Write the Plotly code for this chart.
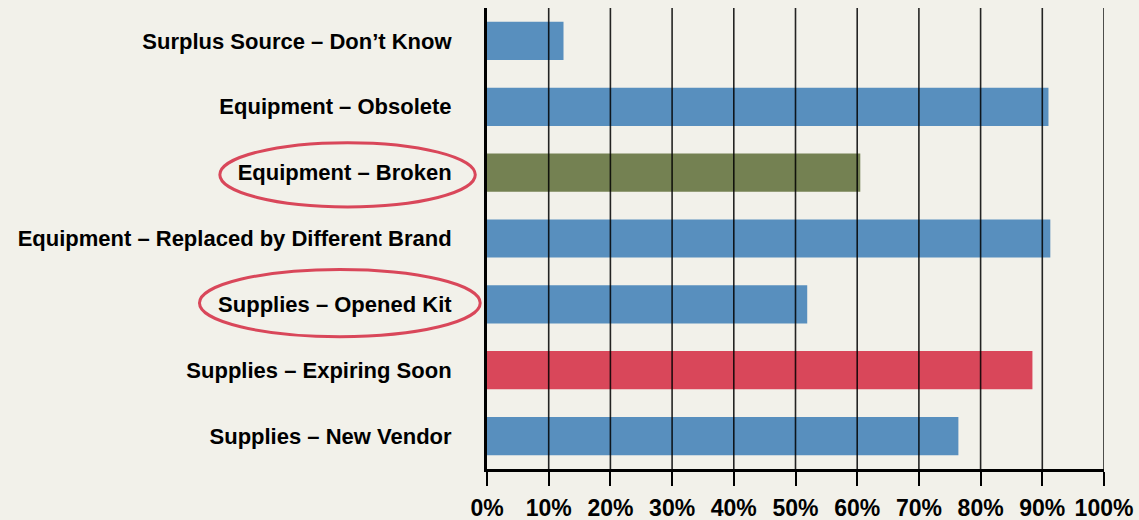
import plotly.graph_objects as go

categories = [
    "Surplus Source – Don’t Know",
    "Equipment – Obsolete",
    "Equipment – Broken",
    "Equipment – Replaced by Different Brand",
    "Supplies – Opened Kit",
    "Supplies – Expiring Soon",
    "Supplies – New Vendor",
]
values = [12.4, 91.0, 60.5, 91.3, 51.9, 88.4, 76.4]
bar_colors = ["#588fbe", "#588fbe", "#748152", "#588fbe", "#588fbe", "#d9475a", "#588fbe"]
tick_vals = [0, 10, 20, 30, 40, 50, 60, 70, 80, 90, 100]
tick_text = ["0%", "10%", "20%", "30%", "40%", "50%", "60%", "70%", "80%", "90%", "100%"]
circled = ["Equipment – Broken", "Supplies – Opened Kit"]

BG = "#f2f1ea"
FONT = "Liberation Sans, Arial, sans-serif"

fig = go.Figure(go.Bar(
    y=categories, x=values, orientation="h",
    marker=dict(color=bar_colors, line=dict(width=0)),
    hoverinfo="x+y",
))

shapes = []
for t in tick_vals[1:]:
    shapes.append(dict(type="line", xref="x", yref="paper", x0=t, x1=t, y0=0, y1=1,
                       line=dict(color="rgba(0,0,0,0.85)", width=1.6), layer="above"))

# hand-drawn style ellipses around highlighted labels (paper x, category y)
ell = {
    "Equipment – Broken": (-0.433, -0.019, -0.455, 0.52),
    "Supplies – Opened Kit": (-0.466, -0.011, -0.53, 0.49),
}
for name in circled:
    i = categories.index(name)
    x0, x1, dy0, dy1 = ell[name]
    shapes.append(dict(type="circle", xref="paper", yref="y", x0=x0, x1=x1,
                       y0=i + dy0, y1=i + dy1,
                       line=dict(color="#d9475a", width=3), layer="above"))

fig.update_layout(
    width=1139, height=520,
    paper_bgcolor=BG, plot_bgcolor=BG,
    margin=dict(l=487, r=35, t=8, b=51),
    bargap=0.42,
    showlegend=False,
    shapes=shapes,
    font=dict(family=FONT, color="#000000"),
    xaxis=dict(
        range=[0, 100], tickvals=tick_vals, ticktext=tick_text,
        showgrid=False, zeroline=False, automargin=False,
        showline=True, linecolor="#000000", linewidth=3,
        ticks="outside", ticklen=14, tickwidth=1.6, tickcolor="#000000",
        ticklabelstandoff=2,
        tickfont=dict(family=FONT, size=23, color="#000000", weight="bold"),
        fixedrange=True,
    ),
    yaxis=dict(
        categoryorder="array", categoryarray=categories,
        autorange="reversed", automargin=False,
        showgrid=False, zeroline=False,
        showline=True, linecolor="#000000", linewidth=3,
        ticks="", ticklabelstandoff=28,
        tickfont=dict(family=FONT, size=22, color="#000000", weight="bold"),
        fixedrange=True,
    ),
)

fig.write_html(
    "out.html",
    config={"displayModeBar": False},
    post_script="document.body.style.margin='0';document.body.style.background='%s';" % BG,
)
